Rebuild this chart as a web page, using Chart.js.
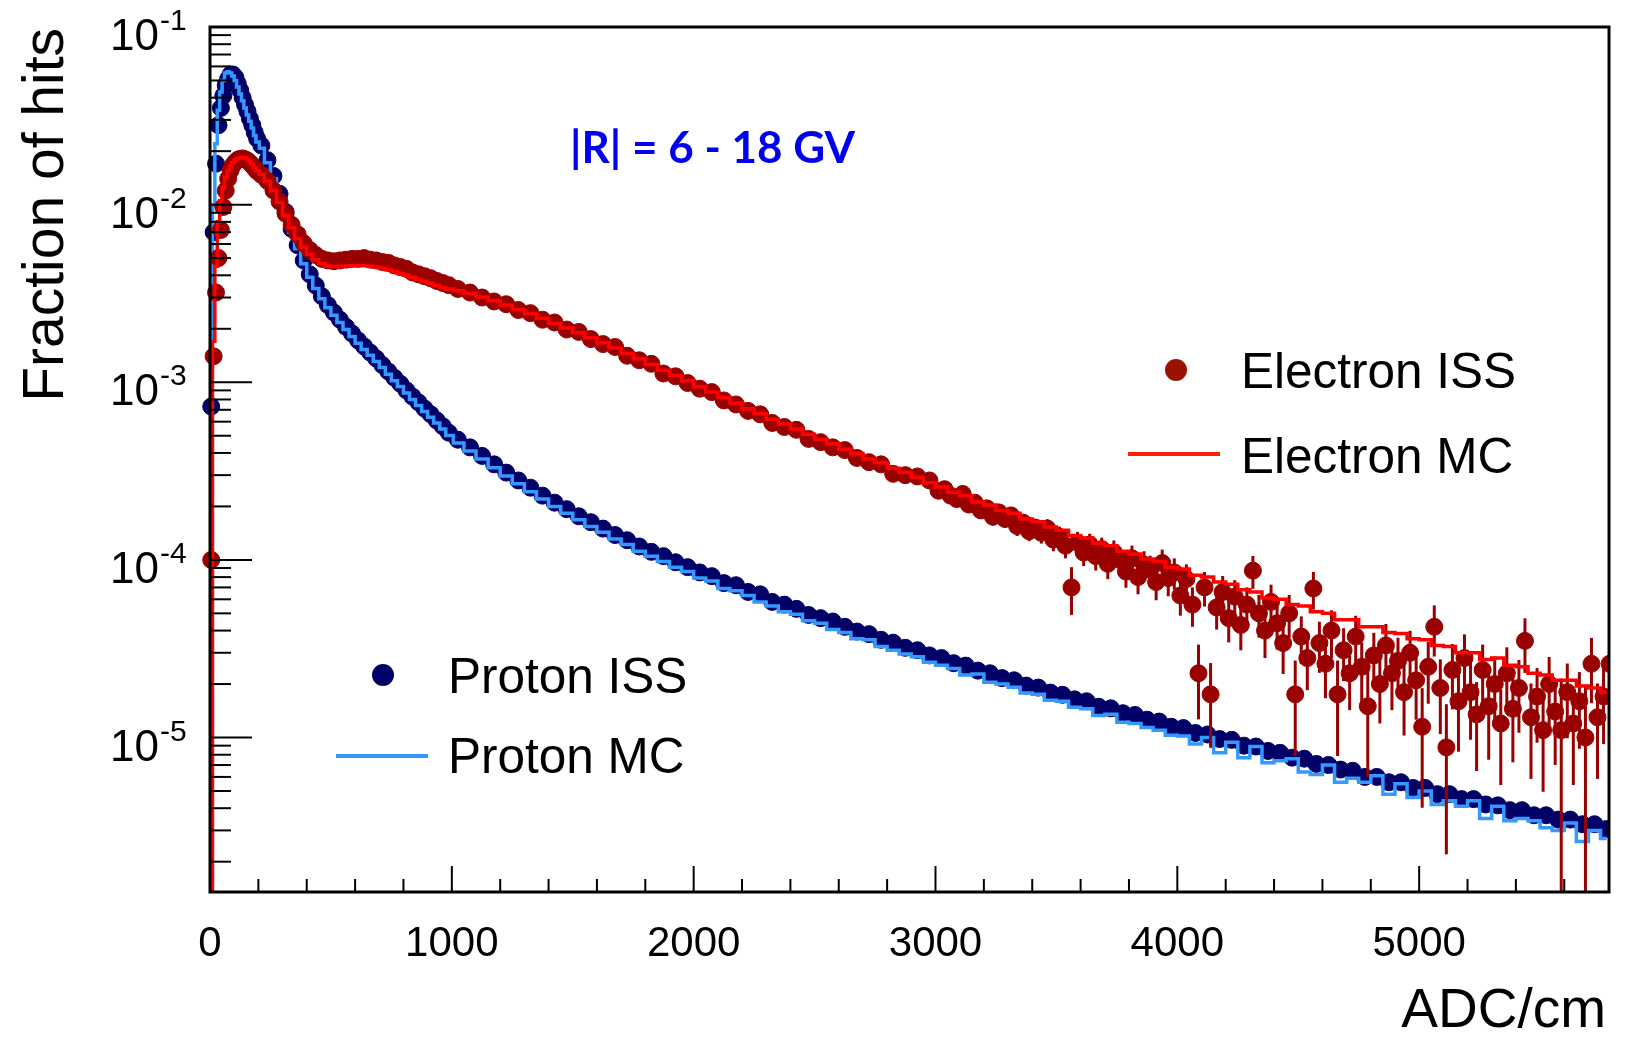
<!DOCTYPE html>
<html lang="en">
<head>
<meta charset="UTF-8">
<title>Fraction of hits vs ADC/cm</title>
<script src="https://cdn.jsdelivr.net/npm/chart.js"></script>
<style>
  html, body { margin: 0; padding: 0; background: #fff; }
  #chart { display: block; }
</style>
</head>
<body>
<canvas id="chart" width="1626" height="1038"></canvas>
<script>
// bin centres in ADC/cm (10 wide up to 200, 25 wide up to 1000, 50 wide after)
const binCenters = [
  5, 15, 25, 35, 45, 55, 65, 75, 85, 95,
  105, 115, 125, 135, 145, 155, 165, 175, 185, 195,
  212.5, 237.5, 262.5, 287.5, 312.5, 337.5, 362.5, 387.5,
  412.5, 437.5, 462.5, 487.5, 512.5, 537.5, 562.5, 587.5,
  612.5, 637.5, 662.5, 687.5, 712.5, 737.5, 762.5, 787.5,
  812.5, 837.5, 862.5, 887.5, 912.5, 937.5, 962.5, 987.5,
  1025, 1075, 1125, 1175, 1225, 1275, 1325, 1375, 1425, 1475,
  1525, 1575, 1625, 1675, 1725, 1775, 1825, 1875, 1925, 1975,
  2025, 2075, 2125, 2175, 2225, 2275, 2325, 2375, 2425, 2475,
  2525, 2575, 2625, 2675, 2725, 2775, 2825, 2875, 2925, 2975,
  3025, 3075, 3125, 3175, 3225, 3275, 3325, 3375, 3425, 3475,
  3525, 3575, 3625, 3675, 3725, 3775, 3825, 3875, 3925, 3975,
  4025, 4075, 4125, 4175, 4225, 4275, 4325, 4375, 4425, 4475,
  4525, 4575, 4625, 4675, 4725, 4775, 4825, 4875, 4925, 4975,
  5025, 5075, 5125, 5175, 5225, 5275, 5325, 5375, 5425, 5475,
  5525, 5575, 5625, 5675, 5725, 5775
];

// electron ISS tail above 3000 ADC/cm is binned 25 wide
const electronTailBins = [
  3012.5, 3037.5, 3062.5, 3087.5, 3112.5, 3137.5, 3162.5, 3187.5, 3212.5, 3237.5,
  3262.5, 3287.5, 3312.5, 3337.5, 3362.5, 3387.5, 3412.5, 3437.5, 3462.5, 3487.5,
  3512.5, 3537.5, 3562.5, 3587.5, 3612.5, 3637.5, 3662.5, 3687.5, 3712.5, 3737.5,
  3762.5, 3787.5, 3812.5, 3837.5, 3862.5, 3887.5, 3912.5, 3937.5, 3962.5, 3987.5,
  4012.5, 4037.5, 4062.5, 4087.5, 4112.5, 4137.5, 4162.5, 4187.5, 4212.5, 4237.5,
  4262.5, 4287.5, 4312.5, 4337.5, 4362.5, 4387.5, 4412.5, 4437.5, 4462.5, 4487.5,
  4512.5, 4537.5, 4562.5, 4587.5, 4612.5, 4637.5, 4662.5, 4687.5, 4712.5, 4737.5,
  4762.5, 4787.5, 4812.5, 4837.5, 4862.5, 4887.5, 4912.5, 4937.5, 4962.5, 4987.5,
  5012.5, 5037.5, 5062.5, 5087.5, 5112.5, 5137.5, 5162.5, 5187.5, 5212.5, 5237.5,
  5262.5, 5287.5, 5312.5, 5337.5, 5362.5, 5387.5, 5412.5, 5437.5, 5462.5, 5487.5,
  5512.5, 5537.5, 5562.5, 5587.5, 5612.5, 5637.5, 5662.5, 5687.5, 5712.5, 5737.5,
  5762.5, 5787.5
];

const protonIss = [
  7.3e-4, 7.0e-3, 1.7e-2, 2.8e-2, 3.5e-2, 4.1e-2, 4.7e-2, 5.1e-2, 5.4e-2, 5.4e-2,
  5.2e-2, 4.8e-2, 4.4e-2, 4.0e-2, 3.65e-2, 3.35e-2, 3.05e-2, 2.8e-2, 2.55e-2, 2.35e-2,
  2.15e-2, 1.78e-2, 1.45e-2, 1.15e-2, 9.1e-3, 7.3e-3, 5.9e-3, 4.85e-3,
  4.05e-3, 3.5e-3, 3.05e-3, 2.72e-3, 2.47e-3, 2.25e-3, 2.05e-3, 1.88e-3,
  1.72e-3, 1.59e-3, 1.47e-3, 1.36e-3, 1.25e-3, 1.15e-3, 1.06e-3, 9.8e-4,
  9.0e-4, 8.3e-4, 7.7e-4, 7.1e-4, 6.6e-4, 6.1e-4, 5.65e-4, 5.2e-4,
  4.75e-4, 4.3e-4, 3.85e-4, 3.45e-4, 3.1e-4, 2.8e-4, 2.55e-4, 2.3e-4, 2.1e-4, 1.93e-4,
  1.76e-4, 1.63e-4, 1.5e-4, 1.38e-4, 1.29e-4, 1.19e-4, 1.11e-4, 1.05e-4, 9.7e-5, 9.1e-5,
  8.5e-5, 8.1e-5, 7.4e-5, 7.2e-5, 6.6e-5, 6.4e-5, 5.8e-5, 5.6e-5, 5.3e-5, 4.9e-5,
  4.7e-5, 4.5e-5, 4.2e-5, 3.95e-5, 3.82e-5, 3.55e-5, 3.42e-5, 3.2e-5, 3.1e-5, 2.9e-5,
  2.8e-5, 2.62e-5, 2.54e-5, 2.38e-5, 2.3e-5, 2.16e-5, 2.1e-5, 1.96e-5, 1.91e-5, 1.79e-5,
  1.74e-5, 1.64e-5, 1.6e-5, 1.49e-5, 1.46e-5, 1.37e-5, 1.34e-5, 1.26e-5, 1.23e-5, 1.15e-5,
  1.13e-5, 1.06e-5, 1.04e-5, 9.8e-6, 9.7e-6, 9.0e-6, 8.9e-6, 8.4e-6, 8.2e-6, 7.7e-6,
  7.6e-6, 7.1e-6, 7.0e-6, 6.6e-6, 6.5e-6, 6.0e-6, 6.0e-6, 5.6e-6, 5.6e-6, 5.2e-6,
  5.2e-6, 4.8e-6, 4.8e-6, 4.5e-6, 4.5e-6, 4.2e-6, 4.15e-6, 3.9e-6, 3.9e-6, 3.65e-6,
  3.65e-6, 3.45e-6, 3.45e-6, 3.25e-6, 3.25e-6, 3.05e-6
];

const protonMc = [
  1e-7, 1.0e-2, 2.2e-2, 3.4e-2, 4.3e-2, 5.0e-2, 5.5e-2, 5.6e-2, 5.5e-2, 5.3e-2,
  5.0e-2, 4.6e-2, 4.2e-2, 3.85e-2, 3.5e-2, 3.2e-2, 2.95e-2, 2.7e-2, 2.45e-2, 2.25e-2,
  2.08e-2, 1.72e-2, 1.4e-2, 1.1e-2, 8.7e-3, 7.0e-3, 5.65e-3, 4.65e-3,
  3.9e-3, 3.37e-3, 2.95e-3, 2.63e-3, 2.38e-3, 2.17e-3, 1.98e-3, 1.81e-3,
  1.66e-3, 1.53e-3, 1.42e-3, 1.31e-3, 1.21e-3, 1.11e-3, 1.02e-3, 9.45e-4,
  8.7e-4, 8.0e-4, 7.4e-4, 6.85e-4, 6.35e-4, 5.9e-4, 5.45e-4, 5.02e-4,
  4.55e-4, 4.1e-4, 3.7e-4, 3.3e-4, 2.97e-4, 2.68e-4, 2.42e-4, 2.2e-4, 2.0e-4, 1.83e-4,
  1.68e-4, 1.54e-4, 1.43e-4, 1.31e-4, 1.22e-4, 1.12e-4, 1.05e-4, 9.8e-5, 9.1e-5, 8.6e-5,
  7.9e-5, 7.6e-5, 6.9e-5, 6.7e-5, 6.3e-5, 5.8e-5, 5.5e-5, 5.1e-5, 4.95e-5, 4.55e-5,
  4.4e-5, 4.05e-5, 3.9e-5, 3.6e-5, 3.55e-5, 3.25e-5, 3.1e-5, 2.95e-5, 2.85e-5, 2.65e-5,
  2.55e-5, 2.45e-5, 2.25e-5, 2.28e-5, 2.05e-5, 2.0e-5, 1.92e-5, 1.78e-5, 1.75e-5, 1.62e-5,
  1.6e-5, 1.48e-5, 1.45e-5, 1.33e-5, 1.35e-5, 1.22e-5, 1.2e-5, 1.14e-5, 1.1e-5, 1.03e-5,
  1.02e-5, 9.2e-6, 1.0e-5, 8.2e-6, 9.4e-6, 7.7e-6, 8.9e-6, 7.2e-6, 7.4e-6, 7.6e-6,
  6.4e-6, 6.2e-6, 7.0e-6, 5.6e-6, 5.9e-6, 5.6e-6, 6.1e-6, 4.8e-6, 5.5e-6, 4.6e-6,
  5.0e-6, 4.2e-6, 4.4e-6, 4.1e-6, 4.4e-6, 3.5e-6, 4.1e-6, 3.4e-6, 3.5e-6, 3.4e-6,
  3.1e-6, 3.0e-6, 3.3e-6, 2.6e-6, 3.0e-6, 2.7e-6
];

// electron ISS on binCenters up to 2975 (first 92 bins)
const electronIss = [
  1.0e-4, 1.4e-3, 3.2e-3, 5.0e-3, 7.2e-3, 9.7e-3, 1.2e-2, 1.4e-2, 1.56e-2, 1.67e-2,
  1.74e-2, 1.79e-2, 1.81e-2, 1.82e-2, 1.8e-2, 1.77e-2, 1.72e-2, 1.66e-2, 1.6e-2, 1.54e-2,
  1.47e-2, 1.36e-2, 1.2e-2, 1.04e-2, 8.9e-3, 7.7e-3, 6.8e-3, 6.05e-3,
  5.55e-3, 5.2e-3, 4.95e-3, 4.85e-3, 4.8e-3, 4.85e-3, 4.9e-3, 4.95e-3,
  4.95e-3, 5.0e-3, 4.9e-3, 4.85e-3, 4.75e-3, 4.7e-3, 4.55e-3, 4.45e-3,
  4.35e-3, 4.15e-3, 4.05e-3, 3.95e-3, 3.85e-3, 3.72e-3, 3.62e-3, 3.52e-3,
  3.35e-3, 3.2e-3, 3.0e-3, 2.85e-3, 2.75e-3, 2.55e-3, 2.45e-3, 2.25e-3, 2.17e-3, 1.98e-3,
  1.92e-3, 1.75e-3, 1.64e-3, 1.58e-3, 1.41e-3, 1.33e-3, 1.27e-3, 1.12e-3, 1.08e-3, 9.9e-4,
  9.2e-4, 8.8e-4, 7.9e-4, 7.5e-4, 6.9e-4, 6.6e-4, 5.9e-4, 5.6e-4, 5.4e-4, 4.8e-4,
  4.6e-4, 4.3e-4, 4.15e-4, 3.75e-4, 3.55e-4, 3.45e-4, 3.05e-4, 3.0e-4, 2.95e-4, 2.8e-4
];
const electronIssRelErr = [
  0, 0, 0, 0, 0, 0, 0, 0, 0, 0,
  0, 0, 0, 0, 0, 0, 0, 0, 0, 0,
  0, 0, 0, 0, 0, 0, 0, 0,
  0, 0, 0, 0, 0, 0, 0, 0,
  0, 0, 0, 0, 0, 0, 0, 0,
  0, 0, 0, 0, 0, 0, 0, 0,
  0.02, 0.02, 0.02, 0.02, 0.02, 0.02, 0.02, 0.02, 0.02, 0.02,
  0.03, 0.03, 0.03, 0.03, 0.03, 0.03, 0.03, 0.03, 0.03, 0.03,
  0.04, 0.04, 0.05, 0.05, 0.05, 0.05, 0.06, 0.06, 0.06, 0.06,
  0.07, 0.07, 0.07, 0.08, 0.08, 0.08, 0.09, 0.09, 0.09, 0.09
];

const electronIssTail = [
  2.45e-4, 2.5e-4, 2.3e-4, 2.2e-4, 2.35e-4, 2.05e-4, 2.1e-4, 1.9e-4, 1.95e-4, 1.75e-4,
  1.85e-4, 1.7e-4, 1.78e-4, 1.55e-4, 1.62e-4, 1.45e-4, 1.52e-4, 1.42e-4, 1.5e-4, 1.3e-4,
  1.35e-4, 1.2e-4, 7.0e-5, 1.25e-4, 1.1e-4, 1.22e-4, 1.05e-4, 1.15e-4, 9.5e-5, 1.1e-4,
  1.0e-4, 8.6e-5, 1.02e-4, 8.0e-5, 9.4e-5, 8.8e-5, 7.5e-5, 9.6e-5, 7.9e-5, 8.5e-5,
  6.3e-5, 7.8e-5, 5.6e-5, 2.3e-5, 7.0e-5, 1.75e-5, 5.4e-5, 6.6e-5, 4.7e-5, 6.2e-5,
  4.3e-5, 5.6e-5, 8.7e-5, 5.0e-5, 4.0e-5, 5.8e-5, 4.4e-5, 3.4e-5, 5.0e-5, 1.75e-5,
  3.7e-5, 2.8e-5, 6.9e-5, 3.4e-5, 2.6e-5, 4.0e-5, 1.75e-5, 3.1e-5, 2.3e-5, 3.7e-5,
  2.5e-5, 1.5e-5, 2.9e-5, 2.0e-5, 3.3e-5, 2.3e-5, 2.7e-5, 1.8e-5, 3.0e-5, 2.1e-5,
  1.15e-5, 2.5e-5, 4.2e-5, 1.9e-5, 8.8e-6, 2.4e-5, 1.6e-5, 2.8e-5, 1.8e-5, 1.35e-5,
  2.4e-5, 1.5e-5, 2.0e-5, 1.2e-5, 2.3e-5, 1.45e-5, 1.9e-5, 3.5e-5, 1.3e-5, 1.7e-5,
  1.1e-5, 2.0e-5, 1.4e-5, 1.1e-5, 1.8e-5, 1.2e-5, 1.6e-5, 1.0e-5, 2.6e-5, 1.3e-5,
  1.7e-5, 2.6e-5
];
const electronIssTailRelErr = [
  0.08, 0.08, 0.09, 0.09, 0.09, 0.1, 0.1, 0.1, 0.1, 0.11,
  0.11, 0.11, 0.11, 0.12, 0.12, 0.12, 0.12, 0.13, 0.13, 0.14,
  0.14, 0.15, 0.3, 0.15, 0.16, 0.15, 0.17, 0.16, 0.18, 0.17,
  0.18, 0.19, 0.18, 0.2, 0.19, 0.2, 0.21, 0.19, 0.21, 0.2,
  0.23, 0.21, 0.25, 0.45, 0.22, 0.5, 0.25, 0.23, 0.27, 0.24,
  0.28, 0.25, 0.21, 0.27, 0.3, 0.25, 0.29, 0.33, 0.27, 0.55,
  0.3, 0.34, 0.24, 0.32, 0.36, 0.3, 0.55, 0.33, 0.38, 0.31,
  0.37, 0.6, 0.34, 0.4, 0.32, 0.38, 0.35, 0.43, 0.33, 0.4,
  0.65, 0.38, 0.32, 0.45, 0.75, 0.4, 0.48, 0.36, 0.46, 0.52,
  0.39, 0.5, 0.43, 0.55, 0.4, 0.5, 0.44, 0.34, 0.55, 0.45,
  0.55, 0.42, 0.5, 0.95, 0.45, 0.55, 0.46, 0.95, 0.4, 0.55,
  0.46, 0.4
];

const electronMc = [
  1e-7, 1.7e-3, 4.5e-3, 8.0e-3, 1.05e-2, 1.25e-2, 1.42e-2, 1.55e-2, 1.65e-2, 1.72e-2,
  1.77e-2, 1.81e-2, 1.83e-2, 1.84e-2, 1.83e-2, 1.8e-2, 1.75e-2, 1.69e-2, 1.62e-2, 1.55e-2,
  1.48e-2, 1.36e-2, 1.2e-2, 1.03e-2, 8.7e-3, 7.4e-3, 6.45e-3, 5.75e-3,
  5.25e-3, 4.9e-3, 4.65e-3, 4.52e-3, 4.48e-3, 4.5e-3, 4.52e-3, 4.55e-3,
  4.55e-3, 4.55e-3, 4.5e-3, 4.45e-3, 4.38e-3, 4.3e-3, 4.2e-3, 4.1e-3,
  4.0e-3, 3.9e-3, 3.8e-3, 3.7e-3, 3.6e-3, 3.5e-3, 3.42e-3, 3.35e-3,
  3.28e-3, 3.16e-3, 3.02e-3, 2.88e-3, 2.72e-3, 2.57e-3, 2.43e-3, 2.29e-3, 2.15e-3, 2.02e-3,
  1.9e-3, 1.78e-3, 1.67e-3, 1.56e-3, 1.45e-3, 1.35e-3, 1.26e-3, 1.17e-3, 1.09e-3, 1.02e-3,
  9.45e-4, 8.8e-4, 8.2e-4, 7.65e-4, 7.1e-4, 6.65e-4, 6.2e-4, 5.8e-4, 5.45e-4, 5.1e-4,
  4.78e-4, 4.5e-4, 4.2e-4, 3.97e-4, 3.7e-4, 3.52e-4, 3.28e-4, 3.1e-4, 2.92e-4, 2.72e-4,
  2.57e-4, 2.4e-4, 2.3e-4, 2.12e-4, 2.04e-4, 1.9e-4, 1.83e-4, 1.7e-4, 1.64e-4, 1.53e-4,
  1.47e-4, 1.37e-4, 1.33e-4, 1.24e-4, 1.2e-4, 1.12e-4, 1.08e-4, 1.01e-4, 9.8e-5, 9.1e-5,
  8.9e-5, 8.2e-5, 8.0e-5, 7.5e-5, 7.3e-5, 6.8e-5, 6.6e-5, 6.1e-5, 6.0e-5, 5.6e-5,
  5.5e-5, 5.1e-5, 5.0e-5, 4.6e-5, 4.6e-5, 4.2e-5, 4.2e-5, 3.9e-5, 3.85e-5, 3.6e-5,
  3.55e-5, 3.3e-5, 3.25e-5, 3.0e-5, 3.0e-5, 2.75e-5, 2.8e-5, 2.55e-5, 2.5e-5, 2.3e-5,
  2.25e-5, 2.1e-5, 2.1e-5, 1.95e-5, 1.9e-5, 1.8e-5
];

const xMajorTicks = [0, 1000, 2000, 3000, 4000, 5000];
const yDecades = [1e-1, 1e-2, 1e-3, 1e-4, 1e-5];
const yExponents = ['-1', '-2', '-3', '-4', '-5'];

const xMin = 0, xMax = 5785;
const yMin = 1.35e-6, yMax = 1e-1;

const sans = '"Liberation Sans", Arial, sans-serif';

function zip(xs, ys) {
  return ys.map((v, i) => ({ x: xs[i], y: v }));
}

const electronIssPoints = zip(binCenters, electronIss).concat(zip(electronTailBins, electronIssTail));
const electronIssErrors = electronIssRelErr.concat(electronIssTailRelErr);

// error bars of the electron data, drawn just before its markers
const errorBars = {
  id: 'errorBars',
  beforeDatasetDraw(chart, args) {
    if (chart.data.datasets[args.index].label !== 'Electron ISS') return;
    const { ctx, chartArea: a, scales: { x, y } } = chart;
    ctx.save();
    ctx.beginPath();
    ctx.rect(a.left, a.top, a.right - a.left, a.bottom - a.top);
    ctx.clip();
    ctx.strokeStyle = '#990000';
    ctx.lineWidth = 3;
    electronIssPoints.forEach((p, i) => {
      const r = electronIssErrors[i];
      if (!r) return;
      const px = x.getPixelForValue(p.x);
      const top = y.getPixelForValue(p.y * (1 + r));
      const low = p.y * (1 - r) > yMin ? y.getPixelForValue(p.y * (1 - r)) : a.bottom;
      ctx.beginPath();
      ctx.moveTo(px, top);
      ctx.lineTo(px, low);
      ctx.stroke();
    });
    ctx.restore();
  }
};

// ROOT style frame, inward ticks, labels, legends and the rigidity note
const rootFrame = {
  id: 'rootFrame',
  afterDraw(chart) {
    const { ctx, chartArea: a, scales: { x, y } } = chart;
    ctx.save();
    ctx.strokeStyle = '#000';
    ctx.fillStyle = '#000';

    // ticks on x
    ctx.lineWidth = 2;
    for (let v = 0; v <= xMax; v += 200) {
      const px = x.getPixelForValue(v);
      const len = v % 1000 === 0 ? 26 : 13;
      ctx.beginPath();
      ctx.moveTo(px, a.bottom);
      ctx.lineTo(px, a.bottom - len);
      ctx.stroke();
    }
    // ticks on y
    for (let e = -6; e <= -1; e++) {
      for (let m = 1; m <= 9; m++) {
        const v = m * Math.pow(10, e);
        if (v < yMin || v > yMax * 1.0001) continue;
        const py = y.getPixelForValue(v);
        const len = m === 1 ? 42 : 21;
        ctx.beginPath();
        ctx.moveTo(a.left, py);
        ctx.lineTo(a.left + len, py);
        ctx.stroke();
      }
    }

    // frame
    ctx.lineWidth = 3;
    ctx.strokeRect(a.left, a.top, a.right - a.left, a.bottom - a.top);

    // x labels
    ctx.font = '42px ' + sans;
    ctx.textAlign = 'center';
    ctx.textBaseline = 'alphabetic';
    xMajorTicks.forEach(v => ctx.fillText(String(v), x.getPixelForValue(v), 956));

    // y labels 10^n
    yDecades.forEach((v, i) => {
      const py = y.getPixelForValue(v);
      ctx.font = '44px ' + sans;
      ctx.textAlign = 'right';
      ctx.fillText('10', 159, py + 23);
      ctx.font = '30px ' + sans;
      ctx.textAlign = 'left';
      ctx.fillText(yExponents[i], 160, py + 3);
    });

    // axis titles
    ctx.font = '55px ' + sans;
    ctx.textAlign = 'right';
    ctx.fillText('ADC/cm', 1606, 1027);

    ctx.save();
    ctx.translate(63, 28);
    ctx.rotate(-Math.PI / 2);
    ctx.font = '57px ' + sans;
    ctx.textAlign = 'right';
    ctx.fillText('Fraction of hits', 0, 0);
    ctx.restore();

    // rigidity range
    ctx.font = 'bold 44px Lato, "Noto Sans", sans-serif';
    ctx.fillStyle = '#0000ee';
    ctx.textAlign = 'left';
    ctx.fillText('|R| = 6 - 18 GV', 570, 163);

    // legends
    ctx.font = '49.5px ' + sans;
    ctx.fillStyle = '#000';
    ctx.textAlign = 'left';
    ctx.fillText('Electron ISS', 1241, 388);
    ctx.fillText('Electron MC', 1241, 473);
    ctx.fillText('Proton ISS', 448, 693);
    ctx.fillText('Proton MC', 448, 773);

    ctx.fillStyle = '#9a1200';
    ctx.beginPath(); ctx.arc(1176, 370, 11, 0, Math.PI * 2); ctx.fill();
    ctx.fillStyle = '#000066';
    ctx.beginPath(); ctx.arc(383, 675, 11, 0, Math.PI * 2); ctx.fill();

    ctx.lineWidth = 4;
    ctx.strokeStyle = '#ff2200';
    ctx.beginPath(); ctx.moveTo(1128, 454); ctx.lineTo(1220, 454); ctx.stroke();
    ctx.strokeStyle = '#3399ff';
    ctx.beginPath(); ctx.moveTo(336, 756); ctx.lineTo(428, 756); ctx.stroke();

    ctx.restore();
  }
};

new Chart(document.getElementById('chart').getContext('2d'), {
  data: {
    datasets: [
      {
        type: 'line',
        label: 'Electron MC',
        data: zip(binCenters, electronMc),
        borderColor: '#ff0000',
        borderWidth: 3.5,
        pointRadius: 0,
        stepped: 'middle',
        fill: false,
        clip: 0,
        order: 0
      },
      {
        type: 'scatter',
        label: 'Electron ISS',
        data: electronIssPoints,
        backgroundColor: '#990000',
        borderColor: '#990000',
        borderWidth: 1,
        pointRadius: 8.5,
        clip: { left: 8, top: 0, right: 0, bottom: 0 },
        order: 1
      },
      {
        type: 'line',
        label: 'Proton MC',
        data: zip(binCenters, protonMc),
        borderColor: '#3399ff',
        borderWidth: 3.5,
        pointRadius: 0,
        stepped: 'middle',
        fill: false,
        clip: 0,
        order: 2
      },
      {
        type: 'scatter',
        label: 'Proton ISS',
        data: zip(binCenters, protonIss),
        backgroundColor: '#000066',
        borderColor: '#000066',
        borderWidth: 1,
        pointRadius: 8.5,
        clip: { left: 8, top: 0, right: 0, bottom: 0 },
        order: 3
      }
    ]
  },
  options: {
    responsive: false,
    animation: false,
    events: [],
    layout: { padding: { left: 210, right: 17, top: 27, bottom: 146 } },
    scales: {
      x: { type: 'linear', min: xMin, max: xMax, display: false },
      y: { type: 'logarithmic', min: yMin, max: yMax, display: false }
    },
    plugins: {
      legend: { display: false },
      tooltip: { enabled: false }
    }
  },
  plugins: [errorBars, rootFrame]
});
</script>
</body>
</html>
